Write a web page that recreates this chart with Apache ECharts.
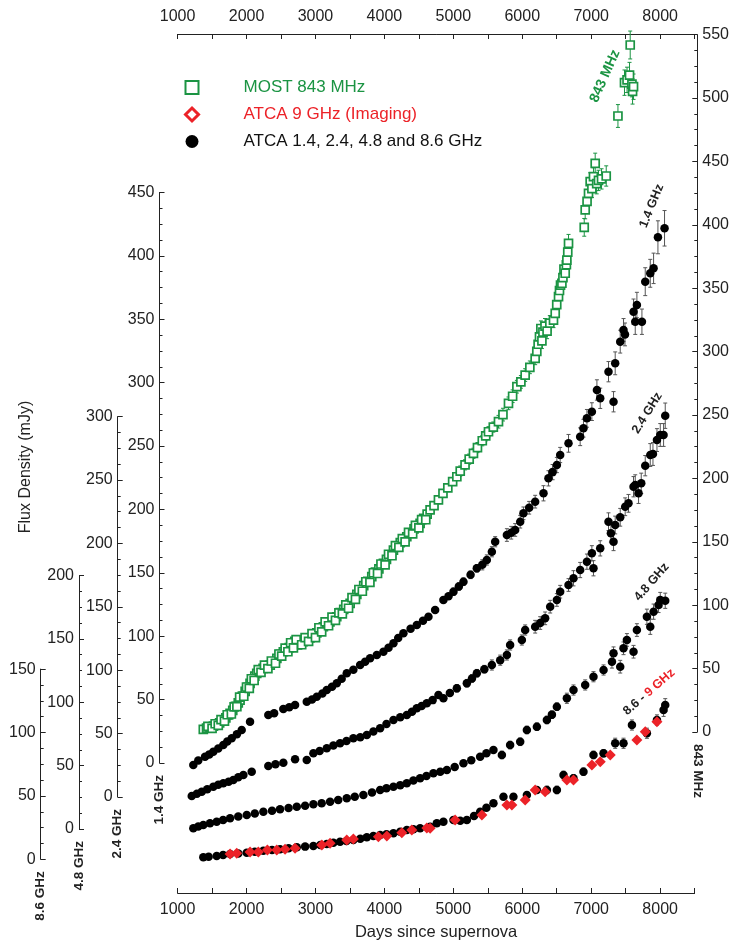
<!DOCTYPE html>
<html>
<head>
<meta charset="utf-8">
<script src="https://cdn.jsdelivr.net/npm/echarts@6/dist/echarts.min.js"></script>
<style>html,body{margin:0;padding:0;background:#fff;}#c{width:734px;height:946px;}</style>
</head>
<body>
<div id="c"></div>
<script>
// ---------- data: [day, flux (mJy), error] ----------
const mostData = [[1373,2.1,0],[1420,3,0],[1470,3.6,0],[1520,4.6,0],[1567,5.5,0],[1610,7.2,0],[1650,9,0],[1700,11.2,0],[1740,13.5,0],[1761,14.7,0],[1800,17,0],[1840,20.3,0],[1880,23,0],[1906,25.2,0],[1940,28.4,0],[1980,32,0],[2020,35.2,0],[2051,38.4,0],[2090,42,0],[2120,44.1,0],[2148,46.3,0],[2190,47.8,0],[2240,50.2,0],[2290,51.1,0],[2344,52.8,0],[2390,55.3,0],[2440,58,0],[2490,61.2,0],[2534,63.3,0],[2580,64.8,0],[2620,66.6,0],[2660,68.2,0],[2700,71.5,0],[2740,68.7,0],[2777,69.9,0],[2820,71.2,0],[2870,73.1,0],[2920,74.3,0],[2970,75.2,0],[3020,78.1,0],[3070,80.6,0],[3115,83,0],[3160,85.2,0],[3210,86.8,0],[3260,89.4,0],[3309,90.9,0],[3360,94.1,0],[3410,96.7,0],[3460,99.2,0],[3503,101.5,0],[3550,105.3,0],[3600,108.6,0],[3647,112,0],[3700,115.4,0],[3760,118.8,0],[3817,122.5,0],[3870,126.1,0],[3920,128.7,0],[3986,133,0],[4030,136.2,0],[4080,139.8,0],[4131,143.5,0],[4180,146.5,0],[4230,149.3,0],[4280,151.2,0],[4325,154,0],[4380,157.1,0],[4430,160.2,0],[4470,162.3,0],[4518,164.6,0],[4570,168.4,2],[4620,171.8,2],[4663,175.1,2],[4720,178.6,3],[4784,183,3],[4850,188.2,3],[4920,192.6,3],[4990,197.4,3],[5051,201.3,3],[5100,205.8,4],[5170,210.7,4],[5230,215.2,4],[5292,219.8,4],[5350,224.3,4],[5420,229.7,4],[5470,233.6,4],[5510,236.8,4],[5580,240.5,4],[5655,244.7,5],[5720,250.3,5],[5800,259.2,5],[5860,264.8,5],[5922,272.3,5],[5980,276.1,5],[6042,281.5,5],[6110,287.6,5],[6187,294.7,5],[6211,300.2,6],[6230,305.8,6],[6250,311.6,6],[6270,318.2,6],[6285,308.4,6],[6300,315.3,6],[6330,320.1,6],[6360,316.2,6],[6400,322.4,6],[6453,324.9,6],[6478,330.2,6],[6500,337.1,6],[6526,343.3,6],[6540,348.2,6],[6555,352.4,6],[6575,353.9,6],[6590,358.3,6],[6605,365.1,6],[6623,361.8,6],[6640,368.5,6],[6647,372.2,6],[6660,378.4,7],[6671,385.4,7],[6899,398,7],[6913,411.7,7],[6940,418.5,7],[6961,424.8,7],[6985,434,7],[7010,428.5,7],[7033,438,7],[7058,448.5,8],[7080,432.4,8],[7106,435,8],[7150,436.2,8],[7218,438.5,8],[7388,485.8,9],[7483,512.1,10],[7520,514.3,10],[7556,518.1,10],[7566,541.8,11],[7591,510.9,10],[7600,505.2,10],[7614,508.9,10],
  [1440,4.5,0],[1500,2.8,0],[1545,6.5,0],[1590,5.2,0],[1630,9.8,0],[1680,8.6,0],[1720,13.6,0],[1780,14.2,0],[1820,19.8,0],[1860,20,0],[1900,27.5,0],[1960,28.2,0],[2000,35.5,0],[2040,34.4,0],[2070,42,0],[2110,40.6,0],[2170,49.2,0],[2210,47,0],[2260,52.8,0],[2310,50,0],[2360,56,0],[2420,54.2,0],[2470,61.5,0],[2510,59.8,0],[2560,66.2,0],[2600,63.3,0],[2640,70.4,0],[2680,66.4,0],[2720,72.8,0],[2800,68.8,0],[2850,74.5,0],[2900,71.4,0],[2950,77.6,0],[3000,74.5,0],[3050,82.2,0],[3090,79,0],[3140,86.8,0],[3190,83.8,0],[3240,90.6,0],[3290,88,0],[3340,94,0],[3390,93.2,0],[3440,100.2,0],[3480,97.6,0],[3530,106,0],[3580,104.6,0],[3630,112.4,0],[3680,111,0],[3730,118.5,0],[3790,118,0],[3840,125.6,0],[3900,125,0],[3950,132.5,0],[4010,131.8,0],[4060,140.2,0],[4110,139,0],[4160,147,0],[4210,145.6,0],[4260,152.5,0],[4300,150,0],[4350,157.4,0],[4410,156.2,0],[4450,163,0],[4500,161,0],[4540,167.5,0],[4600,167.4,0]];

const atca14Data = [[1228,-1.5,0],[1300,2,0],[1398,5,0],[1460,6.8,0],[1518,8.9,0],[1590,11.4,0],[1663,14.2,0],[1720,16.9,0],[1785,19.5,0],[1860,22.6,0],[1930,26,0],[2051,32.6,0],[2316,37.9,0],[2400,39.2,0],[2534,42.6,0],[2620,43.9,0],[2704,45.7,0],[2874,48.3,0],[2950,50.1,0],[3019,52.3,0],[3100,54.9,0],[3164,57.6,0],[3240,60.2,0],[3309,62.9,0],[3380,66.4,0],[3454,70.7,0],[3550,73.6,0],[3648,77.3,0],[3720,79.8,0],[3793,82.6,0],[3890,85.1,0],[3986,87.8,0],[4060,90.8,0],[4131,94.4,0],[4200,98.5,0],[4276,102.3,0],[4380,105.8,0],[4470,108.8,0],[4560,112.1,0],[4639,115.4,0],[4736,120.7,0],[4856,128.5,2],[4930,131.6,2],[5002,135.1,3],[5080,139.2,3],[5147,143,3],[5250,148.4,3],[5341,153.5,3],[5420,156.3,4],[5486,160.1,4],[5559,166.6,4],[5607,174.5,4],[5777,179.8,5],[5840,181.6,5],[5897,183.8,5],[5970,190.3,5],[6017,196.9,5],[6100,201.3,5],[6187,206.1,5],[6308,212.7,6],[6380,224.5,6],[6440,229.4,6],[6502,235,6],[6550,242.9,6],[6671,252.1,7],[6840,257.3,7],[6888,264,7],[6938,271.8,7],[7010,277.1,7],[7083,294.2,8],[7131,287.6,8],[7324,284.9,8],[7251,308.6,8],[7348,315.2,9],[7421,332.3,9],[7469,341.5,9],[7490,338,9],[7614,355.9,10],[7663,361.2,10],[7639,348,10],[7736,348,10],[7784,379.6,11],[7857,386.2,11],[7905,390.1,12],[7968,414.6,13],[8064,421.7,14]];

const atca24Data = [[1205,0.8,0],[1280,2.5,0],[1350,4.2,0],[1430,6.2,0],[1518,8.1,0],[1590,9.6,0],[1663,10.8,0],[1740,12.1,0],[1808,13.4,0],[1880,15.6,0],[1954,17.4,0],[2075,20,0],[2316,24.4,0],[2420,25.9,0],[2534,27.1,0],[2704,29.7,0],[2874,29.2,0],[2970,34.5,0],[3060,36.2,0],[3164,38.4,0],[3260,40.6,0],[3357,42.4,0],[3450,44.1,0],[3550,46.3,0],[3650,47.2,0],[3745,48.9,0],[3840,51.6,0],[3938,54.2,0],[4030,57.5,0],[4131,60.7,0],[4230,62.8,0],[4325,64.7,0],[4400,67.3,0],[4470,70,0],[4540,71.8,0],[4615,73.9,0],[4700,76.4,0],[4784,80.5,2],[4856,77.8,2],[4950,82.1,2],[5051,85.7,3],[5196,89.7,3],[5270,93.5,3],[5341,97.6,3],[5450,100.8,3],[5559,104.1,4],[5680,107.9,4],[5777,112,4],[5824,119.9,4],[5994,123.8,4],[6042,131.7,4],[6187,134.3,5],[6260,137.2,5],[6332,140.9,5],[6405,150.1,5],[6502,155.4,5],[6550,161.9,5],[6671,167.2,5],[6743,172.5,6],[6840,179,6],[6938,185.6,6],[7010,192.2,6],[7033,180.4,6],[7131,196.1,6],[7251,217.1,7],[7286,208,7],[7324,201.3,7],[7348,214.5,7],[7421,220.6,7],[7493,228.9,7],[7541,231.6,7],[7614,244.7,8],[7639,246.1,8],[7687,239.5,8],[7726,247.4,8],[7784,261.3,8],[7857,269.7,9],[7896,270.5,9],[7954,281.5,9],[8002,285.5,9],[8050,285.5,9],[8074,300.7,10]];

const atca48Data = [[1228,0.6,0],[1300,1.9,0],[1373,3.2,0],[1470,4.5,0],[1567,5.8,0],[1660,7.1,0],[1761,8.4,0],[1880,9.8,0],[2003,11,0],[2120,12.3,0],[2244,13.6,0],[2370,14.4,0],[2486,15.5,0],[2610,16.6,0],[2729,17.6,0],[2850,18.4,0],[2970,19.5,0],[3090,20.4,0],[3212,21.5,0],[3330,22.8,0],[3454,24.2,0],[3570,25.4,0],[3695,26.8,0],[3820,28.7,0],[3938,30.8,0],[4030,32.1,0],[4131,33.4,0],[4230,34.6,0],[4325,36,0],[4420,38.3,0],[4518,40,0],[4610,41.8,0],[4711,43.9,0],[4810,45.1,0],[4906,46.5,0],[5020,48.9,0],[5147,51.8,2],[5260,54.3,2],[5389,57,2],[5480,59.8,2],[5582,62.3,2],[5704,58.4,3],[5824,66.2,3],[5970,68.8,3],[6067,78.1,3],[6212,80.7,3],[6357,86,3],[6430,90.2,3],[6502,96.5,3],[6647,103.1,4],[6743,109.6,4],[6913,113.6,4],[7033,120.1,4],[7179,125.4,4],[7301,131.9,5],[7324,138.6,5],[7421,128,5],[7469,142.5,5],[7518,149.1,5],[7614,139.8,5],[7663,156.9,5],[7808,167.4,6],[7857,159.5,6],[7905,171.4,6],[7977,176.7,6],[8002,180.6,6],[8074,180,6]];

const atca86Data = [[1373,1.6,0],[1450,2.1,0],[1567,2.6,0],[1660,3.4,0],[1761,4.2,0],[1880,4.6,0],[2003,5.2,0],[2120,6,0],[2244,6.8,0],[2370,7.3,0],[2486,7.9,0],[2610,8.7,0],[2729,9.5,0],[2850,10,0],[2970,10.5,0],[3070,11.3,0],[3164,12.1,0],[3260,13,0],[3357,13.9,0],[3450,14.5,0],[3550,15.2,0],[3650,16.3,0],[3745,17.4,0],[3840,18.3,0],[3938,19.2,0],[4030,19.8,0],[4131,20.5,0],[4230,21.8,0],[4325,23.1,0],[4420,23.7,0],[4518,24.4,0],[4663,25.7,0],[4760,28.4,0],[4856,29.7,0],[5002,31,0],[5100,30.4,0],[5196,31,0],[5300,34.2,0],[5389,37.5,0],[5480,40.6,2],[5582,44.2,2],[5727,49.4,2],[5872,49.4,2],[6067,50.7,2],[6212,54.7,2],[6357,54.7,3],[6502,54.7,3],[6598,66.5,3],[6743,63.9,3],[6888,69.1,3],[7033,82.3,3],[7179,83.6,3],[7348,91.5,4],[7469,91.5,4],[7591,105.9,4],[7808,99.4,4],[7954,109.9,4],[8050,117.7,5],[8074,121.7,5]];

const atca9Data = [[1761,4.2],[1858,4.7],[2051,5.8],[2171,5.8],[2302,7.3],[2438,7.3],[2559,7.9],[2704,8.7],[3092,11.3],[3212,12.6],[3454,15.2],[3550,16],[3913,17.8],[4035,18.4],[4253,21],[4398,23.1],[4615,24.7],[4663,24.4],[5026,31],[5414,34.9],[5777,42.8],[5849,42.8],[6042,46.7],[6187,54.7],[6332,53.3],[6647,62.5],[6743,62.5],[7010,74.4],[7131,77],[7276,82.3],[7663,94.1],[7784,100.6],[7954,108.5]];

// axis ranges and labels
const xRange = [1000, 8500];
const yMax843 = 550, yMax14 = 450, yMax24 = 300, yMax48 = 200, yMax86 = 150;
const axisNames = ['843 MHz', '1.4 GHz', '2.4 GHz', '4.8 GHz', '8.6 GHz'];
const legendNames = ['MOST 843 MHz', 'ATCA 9 GHz (Imaging)', 'ATCA 1.4, 2.4, 4.8 and 8.6 GHz'];

// ---------- styles ----------
const FONT = '"Liberation Sans", Arial, Helvetica, sans-serif';
const GREEN = '#1b9443';
const RED = '#ec2228';
const INK = '#222';
const GL = 177.6, GW = 517;

function frameX(pos, gridIndex) {
  return {
    type: 'value', gridIndex: gridIndex, position: pos, min: xRange[0], max: xRange[1], interval: 500,
    axisLine: {show: true, onZero: false, lineStyle: {color: INK, width: 1}},
    axisTick: {show: true, inside: true, length: 5, lineStyle: {color: INK}},
    axisLabel: {show: true, color: INK, fontSize: 16, fontFamily: FONT, margin: 9,
      formatter: v => (v % 1000 === 0 && v <= 8000) ? String(v) : ''},
    splitLine: {show: false}
  };
}
function hiddenX(gridIndex) {
  return {type: 'value', gridIndex: gridIndex, min: xRange[0], max: xRange[1], show: false};
}
function yAx(gridIndex, max, pos, offset, name, nameRot) {
  return {
    type: 'value', gridIndex: gridIndex, min: 0, max: max, interval: 50, position: pos, offset: offset,
    axisLine: {show: true, onZero: false, lineStyle: {color: INK, width: 1}},
    axisTick: {show: true, inside: true, length: 5, lineStyle: {color: INK}},
    minorTick: {show: true, splitNumber: 4, length: 3, lineStyle: {color: INK}},
    axisLabel: {color: INK, fontSize: 16, fontFamily: FONT, margin: 5},
    splitLine: {show: false},
    name: name, nameLocation: 'start', nameGap: 12, nameRotate: nameRot,
    nameTextStyle: {fontWeight: 'bold', fontSize: 13.5, color: INK, fontFamily: FONT}
  };
}
function errSeries(data, xi, yi, color) {
  return {
    type: 'custom', xAxisIndex: xi, yAxisIndex: yi, clip: false, silent: true, z: 1,
    encode: {x: 0, y: [1, 2]},
    data: data.filter(d => d[2] > 0).map(d => [d[0], d[1] - d[2], d[1] + d[2]]),
    renderItem: function (params, api) {
      const lo = api.coord([api.value(0), api.value(1)]);
      const hi = api.coord([api.value(0), api.value(2)]);
      const w = 2;
      const st = {stroke: color, lineWidth: 1};
      return {type: 'group', children: [
        {type: 'line', shape: {x1: lo[0], y1: lo[1], x2: hi[0], y2: hi[1]}, style: st},
        {type: 'line', shape: {x1: lo[0] - w, y1: lo[1], x2: lo[0] + w, y2: lo[1]}, style: st},
        {type: 'line', shape: {x1: hi[0] - w, y1: hi[1], x2: hi[0] + w, y2: hi[1]}, style: st}
      ]};
    }
  };
}
function blackSeries(data, xi, yi) {
  return {type: 'scatter', name: legendNames[2], xAxisIndex: xi, yAxisIndex: yi, clip: false, z: 3,
    symbol: 'circle', symbolSize: 8.5, itemStyle: {color: '#000', opacity: 1}, data: data.map(d => [d[0], d[1]])};
}

const chart = echarts.init(document.getElementById('c'), null, {renderer: 'canvas'});
const option = {
  backgroundColor: '#fff',
  animation: false,
  grid: [
    {left: GL, width: GW, top: 34, height: 862},       // frame with day axes
    {left: GL, width: GW, top: 34.6, height: 697.4},   // 843 MHz
    {left: GL, width: GW, top: 192.4, height: 570.6},  // 1.4 GHz
    {left: GL, width: GW, top: 416.6, height: 380.4},  // 2.4 GHz
    {left: GL, width: GW, top: 575.4, height: 253.6},  // 4.8 GHz
    {left: GL, width: GW, top: 669.1, height: 190.2}   // 8.6 GHz
  ],
  xAxis: [
    Object.assign(frameX('bottom', 0), {name: 'Days since supernova', nameLocation: 'middle', nameGap: 31,
      nameTextStyle: {fontSize: 16.5, color: INK, fontFamily: FONT, verticalAlign: 'top'}}),
    frameX('top', 0),
    hiddenX(1), hiddenX(2), hiddenX(3), hiddenX(4), hiddenX(5)
  ],
  yAxis: [
    {type: 'value', gridIndex: 0, min: 0, max: 1, show: false},
    yAx(1, yMax843, 'right', 2.7, axisNames[0], -90),
    yAx(2, yMax14, 'left', GL - 159.5, axisNames[1], 90),
    yAx(3, yMax24, 'left', GL - 117.7, axisNames[2], 90),
    yAx(4, yMax48, 'left', GL - 79, axisNames[3], 90),
    yAx(5, yMax86, 'left', GL - 40.7, axisNames[4], 90)
  ],
  legend: {
    orient: 'vertical', left: 179, top: 74, itemWidth: 13, itemHeight: 13, itemGap: 10,
    selectedMode: false,
    textStyle: {fontSize: 17, fontFamily: FONT, padding: [0, 0, 0, 40]},
    data: [
      {name: legendNames[0], icon: 'rect', itemStyle: {color: '#fff', borderColor: GREEN, borderWidth: 2, opacity: 1}, textStyle: {color: GREEN}},
      {name: legendNames[1], icon: 'diamond', itemStyle: {color: '#fff', borderColor: RED, borderWidth: 3, opacity: 1}, textStyle: {color: RED}},
      {name: legendNames[2], icon: 'circle', itemStyle: {color: '#000', opacity: 1}, textStyle: {color: '#111'}}
    ]
  },
  graphic: [
    {type: 'text', x: 26, y: 467, rotation: Math.PI / 2,
      style: {text: 'Flux Density (mJy)', fontSize: 16, fontFamily: FONT, fill: INK, align: 'center', verticalAlign: 'middle'}},
    {type: 'text', x: 605, y: 76, rotation: 66 * Math.PI / 180,
      style: {text: '843 MHz', fontSize: 14, fontWeight: 'bold', fontFamily: FONT, fill: GREEN, align: 'center', verticalAlign: 'middle'}},
    {type: 'text', x: 651.7, y: 206, rotation: 68 * Math.PI / 180,
      style: {text: '1.4 GHz', fontSize: 12.5, fontWeight: 'bold', fontFamily: FONT, fill: INK, align: 'center', verticalAlign: 'middle'}},
    {type: 'text', x: 647.3, y: 413, rotation: 58 * Math.PI / 180,
      style: {text: '2.4 GHz', fontSize: 12.5, fontWeight: 'bold', fontFamily: FONT, fill: INK, align: 'center', verticalAlign: 'middle'}},
    {type: 'text', x: 651.7, y: 582, rotation: 49 * Math.PI / 180,
      style: {text: '4.8 GHz', fontSize: 12.5, fontWeight: 'bold', fontFamily: FONT, fill: INK, align: 'center', verticalAlign: 'middle'}},
    {type: 'text', x: 649, y: 692, rotation: 41 * Math.PI / 180,
      style: {text: '{a|8.6 - }{b|9 GHz}', fontSize: 12.5, fontWeight: 'bold', fontFamily: FONT, align: 'center', verticalAlign: 'middle',
        rich: {a: {fill: INK, color: INK, fontSize: 12.5, fontWeight: 'bold', fontFamily: FONT},
               b: {fill: RED, color: RED, fontSize: 12.5, fontWeight: 'bold', fontFamily: FONT}}}}
  ],
  series: [
    errSeries(mostData, 2, 1, GREEN),
    {type: 'scatter', name: legendNames[0], xAxisIndex: 2, yAxisIndex: 1, clip: false, z: 2,
      symbol: 'rect', symbolSize: 8, itemStyle: {color: '#fff', borderColor: GREEN, borderWidth: 1.7, opacity: 1},
      data: mostData.map(d => [d[0], d[1]])},
    errSeries(atca14Data, 3, 2, '#555'),
    blackSeries(atca14Data, 3, 2),
    errSeries(atca24Data, 4, 3, '#555'),
    blackSeries(atca24Data, 4, 3),
    errSeries(atca48Data, 5, 4, '#555'),
    blackSeries(atca48Data, 5, 4),
    errSeries(atca86Data, 6, 5, '#555'),
    blackSeries(atca86Data, 6, 5),
    {type: 'scatter', name: legendNames[1], xAxisIndex: 6, yAxisIndex: 5, clip: false, z: 4,
      symbol: 'diamond', symbolSize: 11, itemStyle: {color: RED, opacity: 1},
      data: atca9Data}
  ]
};
chart.setOption(option);
</script>
</body>
</html>
